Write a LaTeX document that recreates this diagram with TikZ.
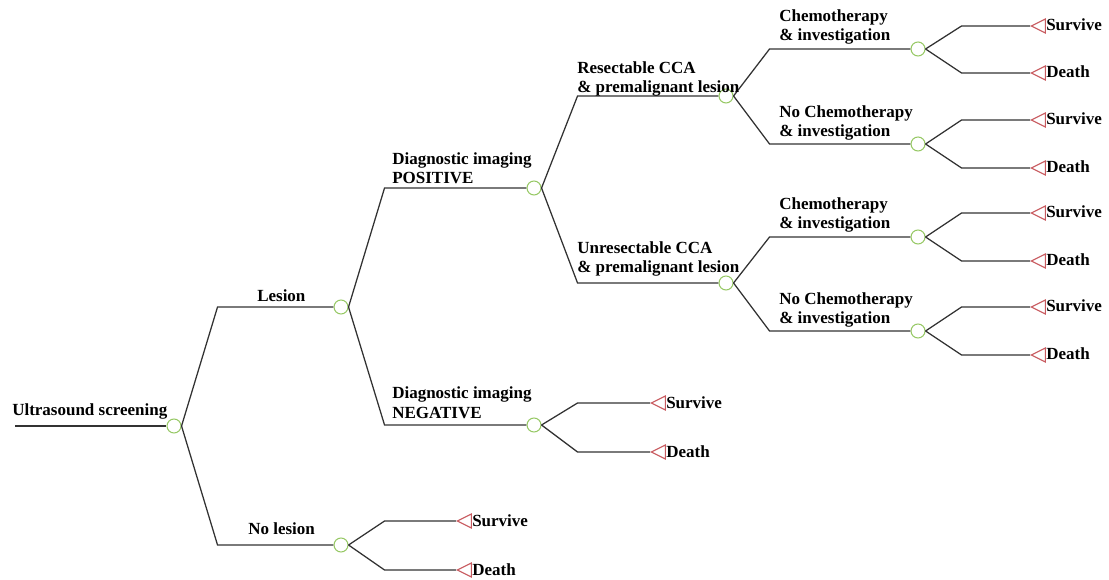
\documentclass[tikz,border=0pt]{standalone}
\usepackage{fontspec}
\setmainfont{Liberation Serif}
\usetikzlibrary{shapes.geometric}
\definecolor{chancegreen}{RGB}{150,200,100}
\definecolor{endred}{RGB}{200,90,95}
\definecolor{branchgray}{RGB}{50,50,50}

\begin{document}
\begin{tikzpicture}[
  x = 0.75pt, y = -0.75pt,
  every node/.style = {font = \fontsize{12.75pt}{14.25pt}\selectfont\bfseries, inner sep = 0pt},
  chance/.style = {draw = chancegreen, circle, minimum size = 10.5pt, line width = 0.8pt, fill = white},
  final/.style = {draw = endred, isosceles triangle, shape border rotate = 180,
                   isosceles triangle stretches, minimum width = 10.5pt, minimum height = 10.5pt,
                   line width = 0.8pt, anchor = apex},
  lbl/.style = {anchor = base west, align = left},
  fork/.style = {to path = {(\tikztostart.east) -- ([xshift = 27pt]\tikztostart.east |- \tikztotarget) -- (\tikztotarget)}},
  branch/.style = {draw = branchgray, line width = 0.95pt}
  ]
  \useasboundingbox (0,0) rectangle (1109,580);

  % chance nodes
  \coordinate (start) at (15,426);
  \node[chance] (scr) at (174,426) {};
  \node[chance] (les) at (341,307) {};
  \node[chance] (noles) at (341,545) {};
  \node[chance] (pos) at (534,188) {};
  \node[chance] (neg) at (534,425) {};
  \node[chance] (res) at (726,96) {};
  \node[chance] (unres) at (726,283) {};
  \node[chance] (res-chemo) at (918,49) {};
  \node[chance] (res-nochemo) at (918,144) {};
  \node[chance] (unres-chemo) at (918,237) {};
  \node[chance] (unres-nochemo) at (918,331) {};

  % terminal nodes
  \node[final] (noles-s) at (456,521) {};
  \node[final] (noles-d) at (456,570) {};
  \node[final] (neg-s) at (650,403) {};
  \node[final] (neg-d) at (650,452) {};
  \node[final] (res-chemo-s) at (1030,26) {};
  \node[final] (res-chemo-d) at (1030,73) {};
  \node[final] (res-nochemo-s) at (1030,120) {};
  \node[final] (res-nochemo-d) at (1030,168) {};
  \node[final] (unres-chemo-s) at (1030,213) {};
  \node[final] (unres-chemo-d) at (1030,261) {};
  \node[final] (unres-nochemo-s) at (1030,307) {};
  \node[final] (unres-nochemo-d) at (1030,355) {};

  % branches
  \draw[branch] (start) -- (scr);
  \draw[branch] (scr) to[fork] (les);
  \draw[branch] (scr) to[fork] (noles);
  \draw[branch] (les) to[fork] (pos);
  \draw[branch] (les) to[fork] (neg);
  \draw[branch] (pos) to[fork] (res);
  \draw[branch] (pos) to[fork] (unres);
  \draw[branch] (res) to[fork] (res-chemo);
  \draw[branch] (res) to[fork] (res-nochemo);
  \draw[branch] (unres) to[fork] (unres-chemo);
  \draw[branch] (unres) to[fork] (unres-nochemo);
  \draw[branch] (noles) to[fork] (noles-s);
  \draw[branch] (noles) to[fork] (noles-d);
  \draw[branch] (neg) to[fork] (neg-s);
  \draw[branch] (neg) to[fork] (neg-d);
  \draw[branch] (res-chemo) to[fork] (res-chemo-s);
  \draw[branch] (res-chemo) to[fork] (res-chemo-d);
  \draw[branch] (res-nochemo) to[fork] (res-nochemo-s);
  \draw[branch] (res-nochemo) to[fork] (res-nochemo-d);
  \draw[branch] (unres-chemo) to[fork] (unres-chemo-s);
  \draw[branch] (unres-chemo) to[fork] (unres-chemo-d);
  \draw[branch] (unres-nochemo) to[fork] (unres-nochemo-s);
  \draw[branch] (unres-nochemo) to[fork] (unres-nochemo-d);

  % branch labels (two-line ones sit on their last line)
  \node[lbl] (l-scr) at (12,416) {Ultrasound screening};
  \node[lbl] (l-les) at (257,302) {Lesion};
  \node[lbl] (l-noles) at (248,534) {No lesion};
  \node[lbl] (l-pos) at (392,184) {Diagnostic imaging\\POSITIVE};
  \node[lbl] (l-neg) at (392,418) {Diagnostic imaging\\NEGATIVE};
  \node[lbl] (l-res) at (577,93) {Resectable CCA\\\& premalignant lesion};
  \node[lbl] (l-unres) at (577,273) {Unresectable CCA\\\& premalignant lesion};
  \node[lbl] (l-res-chemo) at (779,41) {Chemotherapy\\\& investigation};
  \node[lbl] (l-res-nochemo) at (779,137) {No Chemotherapy\\\& investigation};
  \node[lbl] (l-unres-chemo) at (779,229) {Chemotherapy\\\& investigation};
  \node[lbl] (l-unres-nochemo) at (779,324) {No Chemotherapy\\\& investigation};

  % outcome labels
  \node[lbl] (o-noles-s) at (472,526) {Survive};
  \node[lbl] (o-noles-d) at (472,575) {Death};
  \node[lbl] (o-neg-s) at (666,408) {Survive};
  \node[lbl] (o-neg-d) at (666,457) {Death};
  \node[lbl] (o-res-chemo-s) at (1046,31) {Survive};
  \node[lbl] (o-res-chemo-d) at (1046,78) {Death};
  \node[lbl] (o-res-nochemo-s) at (1046,125) {Survive};
  \node[lbl] (o-res-nochemo-d) at (1046,173) {Death};
  \node[lbl] (o-unres-chemo-s) at (1046,218) {Survive};
  \node[lbl] (o-unres-chemo-d) at (1046,266) {Death};
  \node[lbl] (o-unres-nochemo-s) at (1046,312) {Survive};
  \node[lbl] (o-unres-nochemo-d) at (1046,360) {Death};
\end{tikzpicture}
\end{document}
